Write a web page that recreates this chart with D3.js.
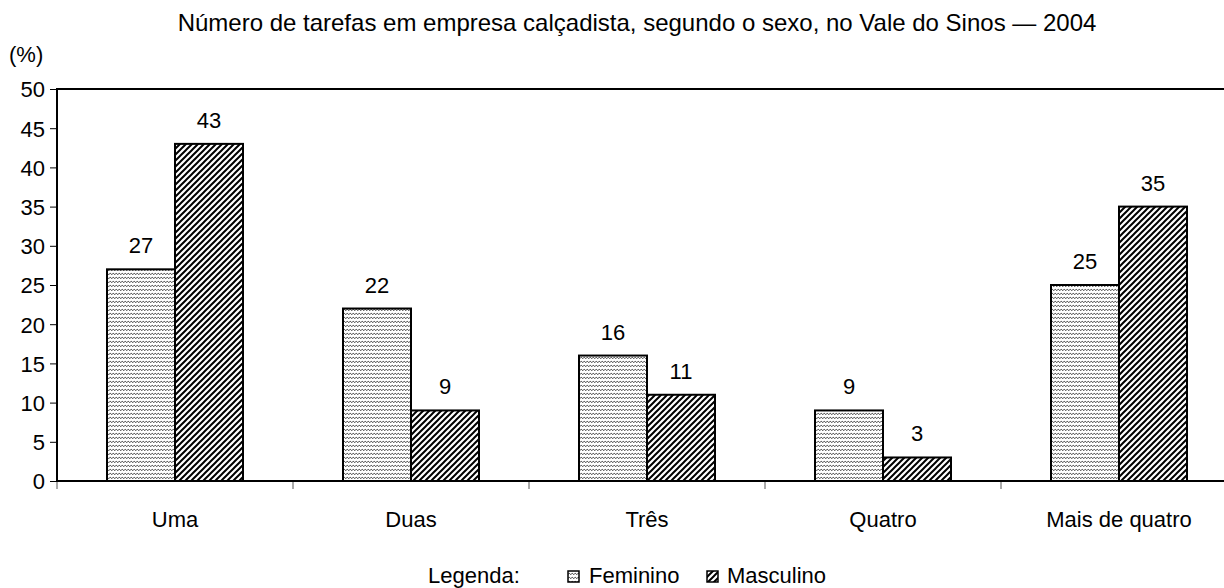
<!DOCTYPE html>
<html>
<head>
<meta charset="utf-8">
<script src="https://cdn.jsdelivr.net/npm/d3@7"></script>
<style>
  body { margin: 0; background: #fff; }
  text { font-family: "Liberation Sans", Arial, sans-serif; fill: #000; }
</style>
</head>
<body>
<div id="chart"></div>
<script>
// data
const categories = ['Uma', 'Duas', 'Três', 'Quatro', 'Mais de quatro'];
const feminino = [27, 22, 16, 9, 25];
const masculino = [43, 9, 11, 3, 35];
const yTicks = [0, 5, 10, 15, 20, 25, 30, 35, 40, 45, 50];

const series = [
  {key: 'Feminino', values: feminino, fill: 'url(#patF)'},
  {key: 'Masculino', values: masculino, fill: 'url(#patM)'}
];

const width = 1224;
const height = 588;
const margin = {top: 89, left: 57, bottom: 107};
const fs = '22px';

const svg = d3.select('#chart').append('svg')
  .attr('width', width)
  .attr('height', height);

// patterns
const defs = svg.append('defs');
const pf = defs.append('pattern')
  .attr('id', 'patF')
  .attr('patternUnits', 'userSpaceOnUse')
  .attr('width', 3).attr('height', 4);
pf.append('rect').attr('width', 3).attr('height', 4).attr('fill', '#fff');
pf.append('path')
  .attr('d', 'M0,2.6 L3,1.2')
  .attr('stroke', '#555')
  .attr('stroke-width', 1);

const pm = defs.append('pattern')
  .attr('id', 'patM')
  .attr('patternUnits', 'userSpaceOnUse')
  .attr('width', 6).attr('height', 6);
pm.append('rect').attr('width', 6).attr('height', 6).attr('fill', '#fff');
pm.append('path')
  .attr('d', 'M0,6 L6,0 M-1,1 L1,-1 M5,7 L7,5')
  .attr('stroke', '#000')
  .attr('stroke-width', 2);

// scales
const x = d3.scaleBand()
  .domain(categories)
  .range([margin.left, 1237]);
const y = d3.scaleLinear()
  .domain([0, 50])
  .range([height - margin.bottom, margin.top]);
const barW = 68;

// title
svg.append('text')
  .attr('x', 637)
  .attr('y', 31)
  .attr('text-anchor', 'middle')
  .style('font-size', '24px')
  .text('Número de tarefas em empresa calçadista, segundo o sexo, no Vale do Sinos — 2004');

svg.append('text')
  .attr('x', 9)
  .attr('y', 62)
  .style('font-size', fs)
  .text('(%)');

// y axis
const yAxis = svg.append('g')
  .attr('transform', `translate(${margin.left},0)`)
  .call(d3.axisLeft(y).tickValues(yTicks).tickSize(7).tickPadding(5));
yAxis.select('.domain').remove();
yAxis.selectAll('.tick line').attr('stroke', '#000');
yAxis.selectAll('.tick text').style('font-size', fs)
  .attr('dy', '0.36em')
  .style('font-family', '"Liberation Sans", Arial, sans-serif');

// x category ticks (boundaries)
const bounds = categories.map(c => x(c)).concat([x.range()[1]]);
svg.append('g').selectAll('line')
  .data(bounds)
  .join('line')
  .attr('x1', d => d).attr('x2', d => d)
  .attr('y1', y(0)).attr('y2', y(0) + 8)
  .attr('stroke', '#555')
  .attr('stroke-width', 1);

// x labels
svg.append('g').selectAll('text')
  .data(categories)
  .join('text')
  .attr('x', d => x(d) + x.bandwidth() / 2)
  .attr('y', 527)
  .attr('text-anchor', 'middle')
  .style('font-size', fs)
  .text(d => d);

// bars
series.forEach((s, i) => {
  const g = svg.append('g');
  g.selectAll('rect')
    .data(s.values)
    .join('rect')
    .attr('x', (d, j) => x(categories[j]) + x.bandwidth() / 2 - barW + i * barW)
    .attr('y', d => y(d))
    .attr('width', barW)
    .attr('height', d => y(0) - y(d))
    .attr('fill', s.fill)
    .attr('stroke', '#000')
    .attr('stroke-width', 2);
  g.selectAll('text')
    .data(s.values)
    .join('text')
    .attr('x', (d, j) => x(categories[j]) + x.bandwidth() / 2 - barW / 2 + i * barW)
    .attr('y', d => y(d) - 16)
    .attr('text-anchor', 'middle')
    .style('font-size', fs)
    .text(d => d);
});

// frame: left, top, bottom
svg.append('path')
  .attr('d', `M${width + 5},${y(50)} L${margin.left},${y(50)} L${margin.left},${y(0)} L${width + 5},${y(0)}`)
  .attr('fill', 'none')
  .attr('stroke', '#000')
  .attr('stroke-width', 2);

// legend
const leg = svg.append('g');
leg.append('text')
  .attr('x', 428).attr('y', 583)
  .style('font-size', fs)
  .text('Legenda:');
const legItems = [
  {key: 'Feminino', fill: 'url(#patF)', bx: 568, tx: 589},
  {key: 'Masculino', fill: 'url(#patM)', bx: 707, tx: 727}
];
legItems.forEach(it => {
  leg.append('rect')
    .attr('x', it.bx).attr('y', 571)
    .attr('width', 11).attr('height', 11)
    .attr('fill', it.fill)
    .attr('stroke', '#000')
    .attr('stroke-width', 1.5);
  leg.append('text')
    .attr('x', it.tx).attr('y', 583)
    .style('font-size', fs)
    .text(it.key);
});
</script>
</body>
</html>
